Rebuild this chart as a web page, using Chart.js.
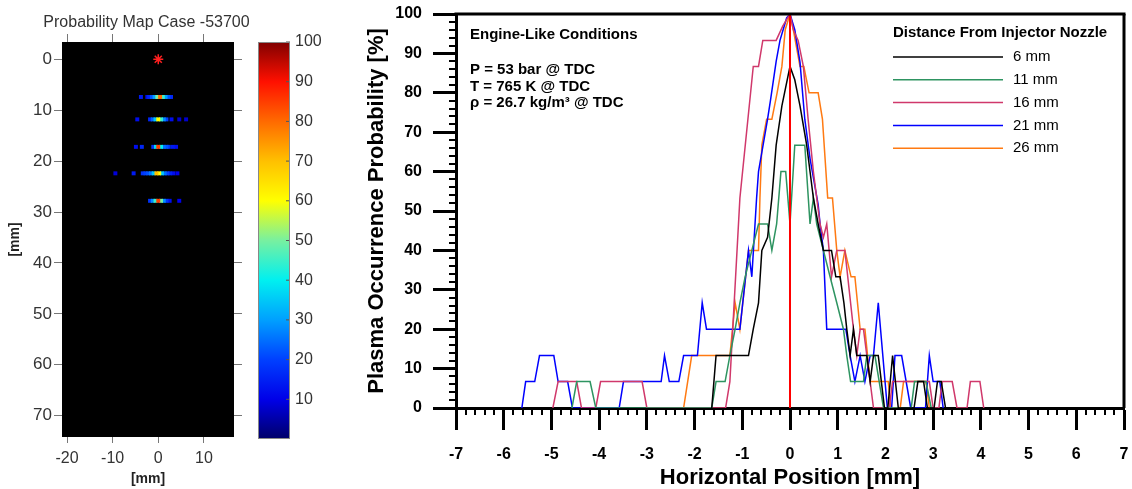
<!DOCTYPE html>
<html>
<head>
<meta charset="utf-8">
<title>Plasma occurrence probability</title>
<script src="https://cdn.jsdelivr.net/npm/chart.js@4.4.1/dist/chart.umd.min.js"></script>
<style>
  html, body { margin: 0; padding: 0; background: #fff; }
  #wrap { position: relative; width: 1132px; height: 489px; overflow: hidden; }
  canvas { position: absolute; top: 0; }
</style>
</head>
<body>
<div id="wrap">
  <canvas id="mapChart" width="256" height="489" style="left:0;width:256px;height:489px"></canvas>
  <canvas id="barChart" width="90" height="489" style="left:250px;width:90px;height:489px"></canvas>
  <canvas id="profileChart" width="792" height="489" style="left:340px;width:792px;height:489px"></canvas>
</div>
<script>
// Horizontal profiles : x in mm, occurrence probability in %
const mm6X = [-1.64, -1.55, -0.87, -0.77, -0.66, -0.59, -0.47, -0.38, -0.29, -0.17, 0, 0.10, 0.21, 0.35, 0.49, 0.59, 0.70, 0.87, 0.96, 1.05, 1.13, 1.19, 1.26, 1.33, 1.40, 1.61, 1.68, 1.75, 1.85, 1.98, 2.05, 2.15, 2.27, 2.60, 2.68, 2.80, 2.88, 3.02, 3.09, 3.17, 3.26]
const mm6Y = [0, 13.3, 13.3, 20, 26.7, 40, 43.3, 53.3, 66.7, 76.7, 86.7, 83.3, 76.7, 66.7, 53.3, 46.7, 40, 40, 33.3, 33.3, 26.7, 20, 13.3, 20, 13.3, 13.3, 6.7, 13.3, 13.3, 0, 0, 13.3, 0, 0, 6.7, 6.7, 0, 0, 6.7, 6.7, 0]

const mm11X = [-4.57, -4.47, -4.19, -4.07, -1.64, -1.55, -1.36, -1.26, -1.15, -1.05, -0.94, -0.80, -0.66, -0.47, -0.38, -0.28, -0.19, -0.09, 0, 0.10, 0.31, 0.42, 0.49, 0.56, 0.70, 0.84, 0.98, 1.12, 1.19, 1.27, 1.54, 1.61, 1.78, 1.96, 2.54, 2.61, 2.85, 2.96]
const mm11Y = [0, 6.7, 6.7, 0, 0, 6.7, 6.7, 13.3, 20, 26.7, 33.3, 40, 46.7, 46.7, 40, 46.7, 60, 60, 46.7, 66.7, 66.7, 46.7, 53.3, 46.7, 40, 33.3, 26.7, 20, 13.3, 6.7, 6.7, 13.3, 13.3, 0, 0, 6.7, 6.7, 0]

const mm16X = [-4.97, -4.86, -4.47, -4.37, -4.07, -3.97, -3.10, -3.00, -1.35, -1.26, -1.05, -0.77, -0.66, -0.57, -0.29, -0.15, 0, 0.07, 0.17, 0.28, 0.38, 0.49, 0.56, 0.63, 0.70, 0.77, 0.87, 0.98, 1.15, 1.33, 1.40, 1.47, 1.54, 1.75, 2.08, 2.15, 2.92, 3.00, 3.12, 3.19, 3.40, 3.50, 3.71, 3.78, 3.98, 4.06]
const mm16Y = [0, 6.7, 6.7, 0, 0, 6.7, 6.7, 0, 0, 6.7, 53.3, 86.7, 86.7, 93.3, 93.3, 97, 100, 96, 93.3, 86.7, 73.3, 60, 53.3, 46.7, 43.3, 46.7, 33.3, 40, 40, 20, 13.3, 20, 20, 0, 0, 6.7, 6.7, 0, 0, 6.7, 6.7, 0, 0, 6.7, 6.7, 0]

const mm21X = [-5.62, -5.54, -5.35, -5.25, -4.95, -4.86, -4.66, -4.56, -3.58, -3.49, -2.70, -2.63, -2.53, -2.33, -2.23, -1.94, -1.84, -1.75, -1.05, -0.87, -0.80, -0.70, -0.66, -0.47, -0.41, -0.29, -0.21, -0.07, 0, 0.10, 0.21, 0.31, 0.42, 0.59, 0.63, 0.70, 0.77, 1.17, 1.26, 1.36, 1.47, 1.57, 1.68, 1.75, 1.85, 2.04, 2.13, 2.20, 2.34, 2.53, 2.84, 2.92, 3.00, 3.14, 3.21]
const mm21Y = [0, 6.7, 6.7, 13.3, 13.3, 6.7, 6.7, 0, 0, 6.7, 6.7, 13.3, 6.7, 6.7, 13.3, 13.3, 26.7, 20, 20, 40, 33.3, 53.3, 60, 73.3, 78, 88, 93.3, 99, 100, 96, 87.7, 73.3, 63.3, 51.6, 46.7, 40, 20, 20, 13.3, 6.7, 13.3, 6.7, 13.3, 13.3, 26.7, 0, 0, 13.3, 13.3, 0, 0, 13.3, 6.7, 6.7, 0]

const mm26X = [-2.23, -2.06, -1.26, -1.15, -1.05, -0.87, -0.66, -0.63, -0.59, -0.49, -0.38, -0.27, -0.17, -0.10, 0, 0.07, 0.21, 0.29, 0.40, 0.59, 0.68, 0.79, 0.89, 0.98, 1.05, 1.15, 1.28, 1.36, 1.47, 1.57, 1.68, 2.06, 2.11, 2.31, 2.38, 2.85, 2.92]
const mm26Y = [0, 13.3, 13.3, 26.7, 20, 40, 40, 53.3, 66.7, 73.3, 73.3, 80, 86.7, 96, 100, 96, 86.7, 86.7, 80, 80, 73.3, 53.3, 53.3, 40, 33.3, 40, 33.3, 33.3, 20, 20, 6.7, 6.7, 0, 0, 6.7, 6.7, 0]

const seriesLabels = ["6 mm", "11 mm", "16 mm", "21 mm", "26 mm"]
const seriesColors = ["#000000", "#2e9461", "#d0386b", "#0000ff", "#ff7a12"]
const centerX = [0, 0]
const centerY = [0, 100]
const conditionLines = ["Engine-Like Conditions", "P = 53 bar @ TDC", "T = 765 K @ TDC", "ρ = 26.7 kg/m³ @ TDC"]
const legendTitle = "Distance From Injector Nozzle"

// Probability map : streak rows (y in mm), x in mm, value in %
const mapTitle = "Probability Map Case -53700"
const mapRowsY = [7.4, 11.8, 17.2, 22.4, 27.8]
const mapRowsX = [
  [-3.8, -2.4, -2.0, -1.4, -0.8, -0.2, 0.4, 1.0, 1.6, 2.2, 2.8],
  [-4.6, -1.8, -1.2, -0.6, 0, 0.6, 1.2, 1.8, 2.9, 4.6, 6.1],
  [-4.9, -3.6, -1.1, -0.5, 0, 0.6, 1.2, 1.8, 2.3, 3.2, 3.9],
  [-9.4, -5.4, -3.4, -2.8, -2.2, -1.6, -1.0, -0.4, 0.2, 0.8, 1.4, 2.0, 2.6, 3.3, 4.2],
  [-1.8, -1.2, -0.6, 0, 0.6, 1.2, 1.8, 2.5, 4.6],
]
const mapRowsV = [
  [14, 12, 16, 22, 30, 50, 80, 45, 30, 22, 16],
  [12, 16, 24, 35, 60, 45, 28, 20, 12, 8, 8],
  [12, 16, 18, 38, 85, 40, 25, 22, 18, 14, 12],
  [9, 14, 18, 20, 22, 26, 35, 70, 60, 35, 25, 20, 15, 12, 10],
  [18, 28, 45, 85, 50, 28, 18, 12, 10],
]
const nozzleX = [0]
const nozzleY = [0]
const mapTicksX = [-20, -10, 0, 10]
const mapTicksY = [0, 10, 20, 30, 40, 50, 60, 70]
const colorbarRange = [0, 100]
const colorbarTicks = [10, 20, 30, 40, 50, 60, 70, 80, 90, 100]

const cmapStops = [0, 5, 10, 20, 30, 40, 50, 60, 70, 80, 90, 100]
const cmapColors = ["#000068", "#0000a8", "#0000e8", "#0040ff", "#00a0ff", "#00f0f0", "#78f0a0", "#ffff00", "#ffc000", "#ff6a00", "#ff1000", "#800000"]

const FONT = "'Liberation Sans', Arial, Helvetica, sans-serif"
Chart.defaults.font.family = FONT
Chart.defaults.animation = false

const toPoints = (xs, ys) => xs.map((x, i) => ({ x, y: ys[i] }))

const hexToRgb = (h) => [1, 3, 5].map((i) => parseInt(h.slice(i, i + 2), 16))

// couleur de la palette pour une valeur 0..100
const colorAt = (v) => {
  let i = 0
  while (i < cmapStops.length - 2 && v > cmapStops[i + 1]) i++
  const t = Math.min(1, Math.max(0, (v - cmapStops[i]) / (cmapStops[i + 1] - cmapStops[i])))
  const a = hexToRgb(cmapColors[i])
  const b = hexToRgb(cmapColors[i + 1])
  const c = a.map((ai, k) => Math.round(ai + (b[k] - ai) * t))
  return `rgb(${c[0]}, ${c[1]}, ${c[2]})`
}

const line = (ctx, x1, y1, x2, y2) => {
  ctx.beginPath()
  ctx.moveTo(x1, y1)
  ctx.lineTo(x2, y2)
  ctx.stroke()
}

/* ---------- probability map ---------- */

const mapDecor = {
  id: "mapDecor",
  beforeDraw(chart) {
    const { ctx, chartArea: a } = chart
    ctx.save()
    ctx.fillStyle = "#000"
    ctx.fillRect(a.left, a.top, a.right - a.left, a.bottom - a.top)
    ctx.restore()
  },
  afterDraw(chart) {
    const { ctx, chartArea: a } = chart
    ctx.save()
    ctx.fillStyle = "#333"
    ctx.font = `16px ${FONT}`
    ctx.textAlign = "center"
    ctx.textBaseline = "middle"
    ctx.fillText(mapTitle, (a.left + a.right) / 2 - 1.5, 23)
    ctx.restore()
  },
}

const mapPoints = mapRowsY
  .flatMap((yy, i) => mapRowsX[i].map((xx, j) => ({ x: xx, y: yy, v: mapRowsV[i][j] })))
  .sort((p, q) => p.v - q.v)

const setTicks = (values) => (scale) => {
  scale.ticks = values.map((v) => ({ value: v }))
}

const mapGrid = (len) => ({ drawOnChartArea: false, tickLength: len, color: "#777" })

new Chart(document.getElementById("mapChart"), {
  type: "scatter",
  data: {
    datasets: [
      {
        data: toPoints(nozzleX, nozzleY),
        pointStyle: "star",
        pointRadius: 5,
        borderColor: "#ff2020",
        backgroundColor: "#ff2020",
        borderWidth: 1.5,
      },
      {
        data: mapPoints,
        pointStyle: "rect",
        pointRadius: 2.8,
        borderWidth: 0,
        backgroundColor: (c) => colorAt(c.raw ? c.raw.v : 0),
      },
    ],
  },
  options: {
    responsive: false,
    events: [],
    layout: { padding: 0 },
    plugins: { legend: { display: false }, tooltip: { enabled: false } },
    scales: {
      x: {
        type: "linear",
        position: "bottom",
        min: -21.1,
        max: 16.6,
        afterBuildTicks: setTicks(mapTicksX),
        ticks: { color: "#333", font: { size: 16 }, padding: 6, maxRotation: 0 },
        grid: mapGrid(6),
        border: { display: false },
        title: { display: true, text: "[mm]", color: "#222", font: { size: 14, weight: "bold" }, padding: { top: 0, bottom: 1 } },
        afterFit: (s) => { s.height = 52 },
      },
      x2: {
        type: "linear",
        position: "top",
        min: -21.1,
        max: 16.6,
        afterBuildTicks: setTicks(mapTicksX),
        ticks: { display: false },
        grid: mapGrid(8),
        border: { display: false },
        afterFit: (s) => { s.height = 42 },
      },
      y: {
        type: "linear",
        position: "left",
        reverse: true,
        min: -3.4,
        max: 74.2,
        afterBuildTicks: setTicks(mapTicksY),
        ticks: { color: "#333", font: { size: 17 }, padding: 2 },
        grid: mapGrid(8),
        border: { display: false },
        title: { display: true, text: "[mm]", color: "#222", font: { size: 14, weight: "bold" }, padding: { top: 7, bottom: 0 } },
        afterFit: (s) => { s.width = 62 },
      },
      y2: {
        type: "linear",
        position: "right",
        reverse: true,
        min: -3.4,
        max: 74.2,
        afterBuildTicks: setTicks(mapTicksY),
        ticks: { display: false },
        grid: mapGrid(8),
        border: { display: false },
        afterFit: (s) => { s.width = 22 },
      },
    },
  },
  plugins: [mapDecor],
})

/* ---------- colour bar ---------- */

const colorbarDecor = {
  id: "colorbarDecor",
  afterDraw(chart) {
    const { ctx, chartArea: a, scales: { y } } = chart
    ctx.save()
    ctx.strokeStyle = "#555"
    ctx.lineWidth = 1
    y.ticks.forEach((t) => {
      const py = y.getPixelForValue(t.value)
      line(ctx, a.right - 4, py, a.right, py)
    })
    ctx.strokeStyle = "#888"
    ctx.strokeRect(a.left + 0.5, a.top + 0.5, a.right - a.left - 1, a.bottom - a.top - 1)
    ctx.restore()
  },
}

new Chart(document.getElementById("barChart"), {
  type: "bar",
  data: {
    labels: [""],
    datasets: [
      {
        data: [colorbarRange],
        borderWidth: 0,
        barPercentage: 1,
        categoryPercentage: 1,
        backgroundColor: (c) => {
          const a = c.chart.chartArea
          if (!a) return cmapColors[0]
          const g = c.chart.ctx.createLinearGradient(0, a.bottom, 0, a.top)
          cmapStops.forEach((s, i) => g.addColorStop(s / 100, cmapColors[i]))
          return g
        },
      },
    ],
  },
  options: {
    responsive: false,
    events: [],
    layout: { padding: { left: 8, top: 42, bottom: 50, right: 0 } },
    plugins: { legend: { display: false }, tooltip: { enabled: false } },
    scales: {
      x: { display: false },
      y: {
        position: "right",
        min: 0,
        max: 100,
        afterBuildTicks: setTicks(colorbarTicks),
        ticks: { color: "#333", font: { size: 16 }, padding: 5 },
        grid: { display: false, drawTicks: false },
        border: { display: false },
        afterFit: (s) => { s.width = 50 },
      },
    },
  },
  plugins: [colorbarDecor],
})

/* ---------- profiles ---------- */

const profileDecor = {
  id: "profileDecor",
  afterDraw(chart) {
    const { ctx, chartArea: a, scales: { x, y } } = chart
    ctx.save()
    // petites graduations
    ctx.strokeStyle = "#000"
    ctx.lineWidth = 2
    for (let i = 0; i <= 70; i++) {
      if (i % 5 === 0) continue
      const px = Math.round(x.getPixelForValue(-7 + i * 0.2))
      line(ctx, px, a.bottom, px, a.bottom + 7)
    }
    for (let v = 0; v <= 100; v += 2) {
      if (v % 10 === 0) continue
      const py = Math.round(y.getPixelForValue(v))
      line(ctx, a.left - 7, py, a.left, py)
    }
    // cadre haut et droite
    ctx.lineWidth = 3
    line(ctx, a.left - 1.5, a.top, a.right + 1.5, a.top)
    line(ctx, a.right, a.top, a.right, a.bottom)

    // conditions
    ctx.fillStyle = "#000"
    ctx.textBaseline = "middle"
    ctx.textAlign = "left"
    ctx.font = `bold 15px ${FONT}`
    const rows = [35, 70, 87, 103]
    conditionLines.forEach((t, i) => ctx.fillText(t, a.left + 14, rows[i]))

    // légende
    const x0 = a.left + 437
    ctx.fillText(legendTitle, x0, 33)
    ctx.font = `15px ${FONT}`
    chart.data.datasets
      .filter((d) => d.label)
      .forEach((d, i) => {
        const yy = 57 + i * 22.8
        ctx.strokeStyle = d.borderColor
        ctx.lineWidth = 1.5
        line(ctx, x0, yy, x0 + 110, yy)
        ctx.fillText(d.label, x0 + 120, yy)
      })
    ctx.restore()
  },
}

const profileSets = [
  { x: mm6X, y: mm6Y },
  { x: mm11X, y: mm11Y },
  { x: mm16X, y: mm16Y },
  { x: mm21X, y: mm21Y },
  { x: mm26X, y: mm26Y },
]

new Chart(document.getElementById("profileChart"), {
  type: "scatter",
  data: {
    datasets: [
      {
        data: toPoints(centerX, centerY),
        showLine: true,
        borderColor: "#ff0000",
        borderWidth: 2,
        pointRadius: 0,
      },
      ...profileSets.map((s, i) => ({
        label: seriesLabels[i],
        data: toPoints(s.x, s.y),
        showLine: true,
        borderColor: seriesColors[i],
        borderWidth: 1.5,
        pointRadius: 0,
        tension: 0,
      })),
    ],
  },
  options: {
    responsive: false,
    events: [],
    layout: { padding: { top: 14, right: 8, left: 0, bottom: 0 } },
    plugins: { legend: { display: false }, tooltip: { enabled: false } },
    scales: {
      x: {
        type: "linear",
        min: -7,
        max: 7,
        z: 1,
        ticks: { stepSize: 1, autoSkip: false, maxRotation: 0, color: "#000", font: { size: 16, weight: "bold" }, padding: 15 },
        grid: { drawOnChartArea: false, tickLength: 22, tickWidth: 3, tickColor: "#000" },
        border: { display: true, color: "#000", width: 3 },
        title: { display: true, text: "Horizontal Position [mm]", color: "#000", font: { size: 22, weight: "bold" }, padding: { top: 0, bottom: -2 } },
        afterFit: (s) => {
          s.height = 81
          s.paddingLeft = 0
          s.paddingRight = 0
        },
      },
      y: {
        type: "linear",
        min: 0,
        max: 100,
        z: 1,
        ticks: { stepSize: 10, color: "#000", font: { size: 16, weight: "bold" }, padding: 11 },
        grid: { drawOnChartArea: false, tickLength: 23, tickWidth: 3, tickColor: "#000" },
        border: { display: true, color: "#000", width: 3 },
        title: { display: true, text: "Plasma Occurrence Probability [%]", color: "#000", font: { size: 22, weight: "bold" }, padding: { top: 24, bottom: 0 } },
        afterFit: (s) => {
          s.width = 116
          s.paddingTop = 0
          s.paddingBottom = 0
        },
      },
    },
  },
  plugins: [profileDecor],
})
</script>
</body>
</html>
